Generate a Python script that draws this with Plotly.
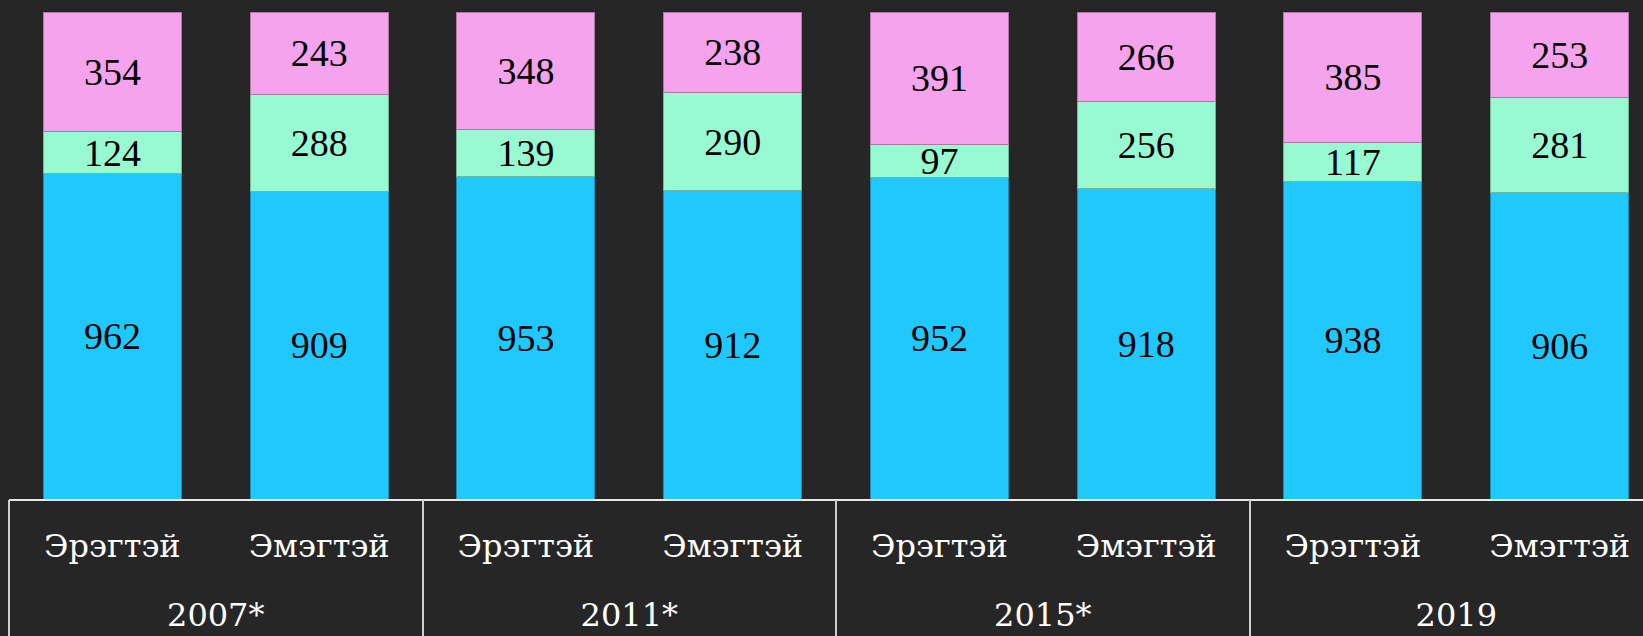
import plotly.graph_objects as go

years = ["2007*", "2007*", "2011*", "2011*", "2015*", "2015*", "2019", "2019"]
genders = ["Эрэгтэй", "Эмэгтэй"] * 4
blue_vals = [962, 909, 953, 912, 952, 918, 938, 906]
green_vals = [124, 288, 139, 290, 97, 256, 117, 281]
pink_vals = [354, 243, 348, 238, 391, 266, 385, 253]

colors = ["#1FC8FF", "#98FAD2", "#F5A3EC"]
line_colors = ["#1A8FB5", "#6FB89A", "#B077A9"]

# unique category keys, one per bar
cats = [f"{y} {g}" for y, g in zip(years, genders)]
group_years = list(dict.fromkeys(years))
group_size = len(cats) // len(group_years)
group_centers = [i * group_size + (group_size - 1) / 2 for i in range(len(group_years))]
group_edges = [i * group_size - 0.5 for i in range(len(group_years) + 1)]

x_range = [-0.5, 7.403]

fig = go.Figure()
for vals, c, lc in zip([blue_vals, green_vals, pink_vals], colors, line_colors):
    fig.add_trace(go.Bar(
        x=cats, y=vals,
        marker=dict(color=c, line=dict(color=lc, width=1)),
        text=vals, texttemplate="%{text}",
        textposition="inside", insidetextanchor="middle", textangle=0,
        constraintext="none",
        textfont=dict(family="Liberation Serif", size=38, color="black"),
        showlegend=False,
    ))

# empty traces so the year-label axis and the divider axis get drawn
for ax in ["x2", "x3"]:
    fig.add_trace(go.Scatter(x=[], y=[], xaxis=ax, yaxis="y", mode="markers",
                             showlegend=False, hoverinfo="skip"))

tick_font = dict(family="DejaVu Serif", size=32, color="white")

fig.update_layout(
    barmode="stack", barnorm="percent", bargap=0.333,
    width=1643, height=636,
    margin=dict(l=9, r=0, t=12, b=137),
    paper_bgcolor="#262626", plot_bgcolor="#262626",
    uniformtext=dict(minsize=38, mode="show"),
    font=dict(family="DejaVu Serif", color="white"),
    xaxis=dict(
        type="category", categoryorder="array", categoryarray=cats,
        range=x_range, tickmode="array", tickvals=cats, ticktext=genders,
        tickfont=tick_font, ticklabelstandoff=18, ticks="",
        showline=True, linecolor="#E8E8E8", linewidth=2, showgrid=False,
        zeroline=False, automargin=False,
    ),
    xaxis2=dict(
        overlaying="x", anchor="y", side="bottom", type="linear",
        range=x_range, tickmode="array", tickvals=group_centers,
        ticktext=group_years, tickfont=tick_font, ticklabelstandoff=94,
        ticks="", showline=False, showgrid=False, zeroline=False,
        automargin=False,
    ),
    xaxis3=dict(
        overlaying="x", anchor="y", side="bottom", type="linear",
        range=x_range, tickmode="array", tickvals=group_edges,
        showticklabels=False, ticks="outside", ticklen=140, tickwidth=2,
        tickcolor="#D0D0D0", showline=False, showgrid=False, zeroline=False,
        automargin=False,
    ),
    yaxis=dict(range=[0, 100], visible=False, showgrid=False, automargin=False),
)
fig.write_html(
    "out.html",
    config={"displayModeBar": False},
    post_script="document.body.style.margin='0';document.body.style.overflow='hidden';",
)
